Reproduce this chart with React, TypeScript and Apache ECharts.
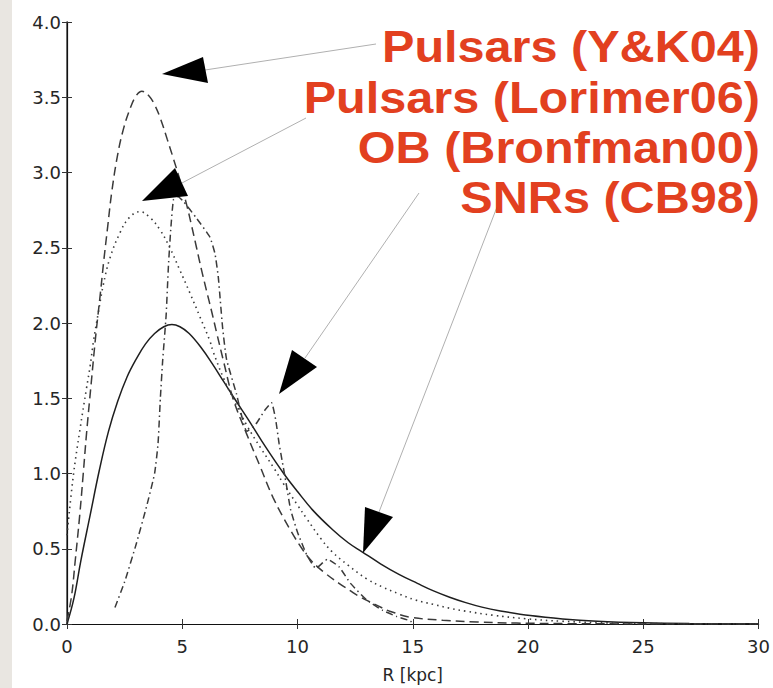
import React, { useEffect, useRef } from "react";
import * as echarts from "echarts";

// ---- Data ----
// SNRs (CB98) – solid
const snrR = [0, 0.3, 0.6, 1.0, 1.4, 1.8, 2.2, 2.6, 3.0, 3.4, 3.8, 4.2, 4.55, 4.9, 5.3, 5.8, 6.3, 6.8, 7.3, 7.9, 8.6, 9.4, 10.0, 10.7, 11.5, 12.2, 12.8, 13.6, 14.4, 15.2, 15.9, 16.6, 17.3, 18.0, 18.8, 20.1, 21.5, 23, 25, 27, 30];
const snrV = [0, 0.17, 0.42, 0.72, 1.02, 1.28, 1.48, 1.64, 1.76, 1.86, 1.93, 1.975, 1.99, 1.975, 1.93, 1.84, 1.73, 1.61, 1.49, 1.35, 1.18, 1.0, 0.88, 0.75, 0.63, 0.54, 0.48, 0.4, 0.33, 0.27, 0.22, 0.178, 0.142, 0.112, 0.087, 0.056, 0.034, 0.019, 0.008, 0.003, 0.001];

// Pulsars (Y&K04) – dashed
const ykR = [0, 0.2, 0.35, 0.55, 0.7, 0.85, 1.05, 1.25, 1.45, 1.6, 1.75, 1.95, 2.2, 2.45, 2.75, 3.0, 3.25, 3.55, 3.8, 4.05, 4.35, 4.6, 4.9, 5.2, 5.4, 5.62, 5.84, 6.06, 6.27, 6.5, 6.8, 7.2, 7.8, 8.37, 8.94, 9.67, 10.24, 10.6, 11.1, 11.8, 12.3, 12.6, 13.1, 13.7, 14.0, 14.9, 16.3, 17.8, 19.5, 22, 25, 30];
const ykV = [0.02, 0.19, 0.41, 0.72, 0.99, 1.27, 1.6, 1.92, 2.2, 2.42, 2.62, 2.88, 3.12, 3.29, 3.43, 3.51, 3.54, 3.51, 3.45, 3.36, 3.22, 3.1, 2.95, 2.78, 2.65, 2.5, 2.35, 2.21, 2.08, 1.93, 1.74, 1.5, 1.26, 1.05, 0.84, 0.63, 0.49, 0.42, 0.35, 0.27, 0.22, 0.19, 0.15, 0.105, 0.085, 0.045, 0.025, 0.013, 0.006, 0.002, 0.0005, 0];

// Pulsars (Lorimer06) – dotted
const lorR = [0, 0.27, 0.56, 0.85, 1.0, 1.15, 1.36, 1.57, 1.86, 2.3, 2.7, 3.16, 3.6, 4.03, 4.46, 4.9, 5.33, 5.77, 6.2, 6.34, 6.8, 7.3, 7.8, 8.4, 9.0, 9.4, 10.0, 10.4, 11.0, 11.5, 12.2, 13.0, 13.7, 14.4, 15.1, 15.9, 16.6, 17.3, 18.5, 19.9, 21.5, 23.8, 26, 30];
const lorV = [0.59, 0.98, 1.29, 1.57, 1.71, 1.88, 2.07, 2.25, 2.43, 2.6, 2.7, 2.74, 2.7, 2.62, 2.5, 2.35, 2.2, 2.04, 1.88, 1.81, 1.63, 1.47, 1.32, 1.17, 1.03, 0.93, 0.79, 0.7, 0.57, 0.48, 0.39, 0.3, 0.245, 0.2, 0.16, 0.13, 0.105, 0.085, 0.058, 0.035, 0.018, 0.006, 0.002, 0.0003];

// OB (Bronfman00) – dash-dot
const obR = [2.08, 2.5, 3.0, 3.45, 3.8, 3.95, 4.05, 4.15, 4.3, 4.4, 4.5, 4.62, 4.8, 5.04, 5.6, 6.2, 6.42, 6.56, 6.65, 6.75, 6.92, 7.35, 7.8, 8.2, 8.58, 8.87, 9.05, 9.2, 9.35, 9.5, 9.7, 10.0, 10.4, 10.8, 11.3, 11.8, 12.3, 13.0, 13.7, 14.3, 14.9, 15.0];
const obV = [0.11, 0.28, 0.53, 0.78, 1.0, 1.2, 1.5, 1.75, 2.05, 2.38, 2.62, 2.82, 2.84, 2.81, 2.7, 2.57, 2.46, 2.31, 2.15, 1.97, 1.76, 1.53, 1.28, 1.33, 1.42, 1.47, 1.36, 1.2, 1.07, 0.94, 0.76, 0.61, 0.46, 0.37, 0.43, 0.38, 0.27, 0.16, 0.09, 0.05, 0.02, 0];

const xTicks = [0, 5, 10, 15, 20, 25, 30];
const labels = ["Pulsars (Y&K04)", "Pulsars (Lorimer06)", "OB (Bronfman00)", "SNRs (CB98)"];

const pairs = (xs: number[], ys: number[]) => xs.map((x, i) => [x, ys[i]]);

export default function App() {
  const ref = useRef<HTMLDivElement>(null);
  useEffect(() => {
    if (!ref.current) return;
    const chart = echarts.init(ref.current, null, { renderer: "svg" });
    const GL = 67, GT = 22, GW = 692, GH = 611;
    const axisColor = "#111";
    const lblColor = "#262626";
    const font = "DejaVu Sans";
    const red = "#e2401f";
    const arrowColor = "#000";
    const leaderColor = "#b0b0b0";

    const arrows = [
      { tri: [[162, 74], [203, 57], [208, 83]], line: [[205, 70], [376, 44]] },
      { tri: [[142, 201], [175, 168], [188, 196]], line: [[180, 184], [306, 118]] },
      { tri: [[279, 394], [292, 350], [317, 367]], line: [[305, 358], [419, 193]] },
      { tri: [[363, 553], [365, 507], [393, 517]], line: [[379, 512], [497, 207]] },
    ];
    const baselines = [62, 113, 163, 213];

    const graphic: any[] = [
      { type: "rect", shape: { x: 0, y: 0, width: 12, height: 688 }, style: { fill: "#e9e6e1" }, z: 0 },
    ];
    arrows.forEach((a) => {
      graphic.push({
        type: "line",
        shape: { x1: a.line[0][0], y1: a.line[0][1], x2: a.line[1][0], y2: a.line[1][1] },
        style: { stroke: leaderColor, lineWidth: 1 },
        z: 50,
      });
      graphic.push({
        type: "polygon",
        shape: { points: a.tri },
        style: { fill: arrowColor },
        z: 51,
      });
    });
    labels.forEach((t, i) => {
      graphic.push({
        type: "text",
        x: 760,
        y: baselines[i] - 15,
        scaleX: 1.13,
        scaleY: 1.04,
        z: 60,
        style: {
          text: t,
          fill: red,
          font: `bold 43px "Liberation Sans", Arial, sans-serif`,
          align: "right",
          verticalAlign: "middle",
        },
      });
    });

    const lineSeries = (name: string, data: number[][], type: any, color: string, width: number, smooth: number) => ({
      name,
      type: "line",
      data,
      showSymbol: false,
      symbol: "none",
      smooth,
      lineStyle: { type, color, width },
      z: 10,
    });

    chart.setOption({
      animation: false,
      backgroundColor: "#fff",
      grid: { left: GL, top: GT, width: GW, height: GH, containLabel: false },
      xAxis: [
        {
          type: "value",
          min: 0,
          max: 30,
          interval: 5,
          name: "R [kpc]",
          nameLocation: "middle",
          nameGap: 42,
          nameTextStyle: { fontFamily: font, fontSize: 17, color: lblColor },
          axisLine: { show: true, lineStyle: { color: axisColor, width: 1.2 } },
          axisTick: { show: true, inside: true, length: 5, lineStyle: { color: "#333" } },
          axisLabel: {
            fontFamily: font,
            fontSize: 18,
            color: lblColor,
            margin: 13,
            formatter: (v: number) => (xTicks.includes(v) ? String(v) : ""),
          },
          splitLine: { show: false },
        },
        {
          type: "value",
          position: "top",
          min: 0,
          max: 30,
          interval: 5,
          axisLine: { show: true, lineStyle: { color: axisColor, width: 1.2 } },
          axisTick: { show: true, inside: true, length: 5, lineStyle: { color: "#333" } },
          axisLabel: { show: false },
          splitLine: { show: false },
        },
      ],
      yAxis: [
        {
          type: "value",
          min: 0,
          max: 4,
          interval: 0.5,
          axisLine: { show: true, lineStyle: { color: "#555", width: 1.6 } },
          axisTick: { show: true, inside: true, length: 5, lineStyle: { color: "#333" } },
          axisLabel: {
            fontFamily: font,
            fontSize: 18,
            color: lblColor,
            margin: 6,
            formatter: (v: number) => v.toFixed(1),
          },
          splitLine: { show: false },
        },
        {
          type: "value",
          position: "right",
          min: 0,
          max: 4,
          interval: 0.5,
          axisLine: { show: true, lineStyle: { color: axisColor, width: 1.2 } },
          axisTick: { show: true, inside: true, length: 5, lineStyle: { color: "#333" } },
          axisLabel: { show: false },
          splitLine: { show: false },
        },
      ],
      graphic,
      series: [
        lineSeries("SNRs (CB98)", pairs(snrR, snrV), "solid", "#1e1e1e", 1.5, 0.4),
        lineSeries("Pulsars (Y&K04)", pairs(ykR, ykV), [9, 5], "#3a3a3a", 1.5, 0.4),
        lineSeries("Pulsars (Lorimer06)", pairs(lorR, lorV), [1.5, 4], "#3a3a3a", 1.6, 0.4),
        lineSeries("OB (Bronfman00)", pairs(obR, obV), [7, 3.5, 1.5, 3.5], "#3a3a3a", 1.5, 0.15),
      ],
    });
    return () => chart.dispose();
  }, []);
  return (
    <div
      ref={ref}
      style={{ position: "fixed", left: 0, top: 0, width: 773, height: 688, background: "#fff" }}
    />
  );
}
